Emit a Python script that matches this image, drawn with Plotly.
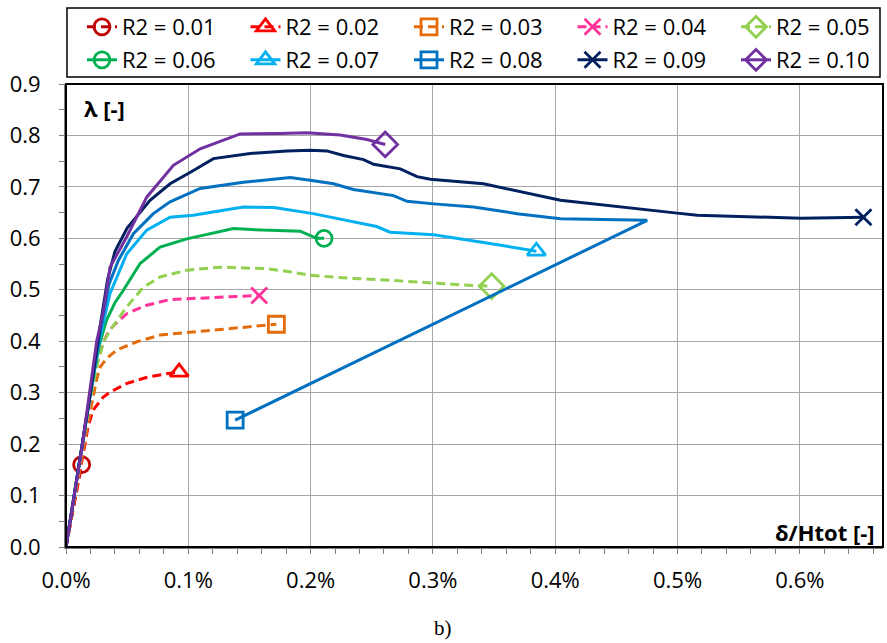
import plotly.graph_objects as go

# Series labels, colours and end-point symbols
labels = ["R2 = 0.01", "R2 = 0.02", "R2 = 0.03", "R2 = 0.04", "R2 = 0.05",
          "R2 = 0.06", "R2 = 0.07", "R2 = 0.08", "R2 = 0.09", "R2 = 0.10"]
colors = ["#C00000", "#FF0000", "#E46C0A", "#FF3399", "#92D050",
          "#00B050", "#00B0F0", "#0070C0", "#002060", "#7030A0"]
symbols = ["circle-open", "triangle-up-open", "square-open", "x-thin-open", "diamond-open",
           "circle-open", "triangle-up-open", "square-open", "x-thin-open", "diamond-open"]
dashed = [True, True, True, True, True, False, False, False, False, False]

# Drift delta/Htot (in %) and load factor lambda for each series
drift_01 = [0, 0.0128]
lam_01 = [0, 0.16]

drift_02 = [0, 0.0128, 0.0155, 0.018, 0.0221, 0.0303, 0.036, 0.0499, 0.0663, 0.0851, 0.0925]
lam_02 = [0, 0.16, 0.20, 0.233, 0.266, 0.291, 0.301, 0.318, 0.330, 0.338, 0.340]

drift_03 = [0, 0.012, 0.018, 0.022, 0.0255, 0.028, 0.033, 0.0415, 0.058, 0.077, 0.104, 0.137, 0.172]
lam_03 = [0, 0.165, 0.24, 0.29, 0.33, 0.35, 0.366, 0.383, 0.399, 0.412, 0.418, 0.425, 0.433]

drift_04 = [0, 0.012, 0.018, 0.023, 0.027, 0.030, 0.035, 0.040, 0.050, 0.066, 0.085, 0.110, 0.137, 0.151, 0.158]
lam_04 = [0, 0.17, 0.26, 0.33, 0.37, 0.395, 0.42, 0.433, 0.454, 0.470, 0.481, 0.484, 0.487, 0.488, 0.489]

drift_05 = [0, 0.012, 0.020, 0.026, 0.031, 0.036, 0.0497, 0.0633, 0.077, 0.0988, 0.126, 0.164,
            0.183, 0.200, 0.235, 0.268, 0.300, 0.328, 0.348]
lam_05 = [0, 0.175, 0.29, 0.36, 0.40, 0.421, 0.467, 0.505, 0.525, 0.538, 0.544, 0.541,
          0.535, 0.528, 0.522, 0.518, 0.513, 0.509, 0.507]

drift_06 = [0, 0.012, 0.020, 0.027, 0.033, 0.040, 0.0469, 0.0606, 0.0769, 0.0988, 0.137, 0.161,
            0.1915, 0.205, 0.211]
lam_06 = [0, 0.18, 0.30, 0.39, 0.44, 0.475, 0.499, 0.551, 0.583, 0.599, 0.619, 0.616,
          0.614, 0.600, 0.600]

drift_07 = [0, 0.012, 0.020, 0.028, 0.036, 0.0497, 0.066, 0.0851, 0.104, 0.145, 0.170, 0.202,
            0.2297, 0.254, 0.265, 0.3006, 0.3388, 0.3846]
lam_07 = [0, 0.18, 0.30, 0.41, 0.493, 0.570, 0.616, 0.641, 0.645, 0.661, 0.660, 0.648,
          0.634, 0.623, 0.612, 0.607, 0.593, 0.575]

drift_08 = [0, 0.012, 0.020, 0.028, 0.035, 0.0428, 0.0551, 0.0714, 0.0851, 0.1097, 0.145, 0.1833,
            0.1997, 0.2187, 0.235, 0.2678, 0.2788, 0.3006, 0.3333, 0.3688, 0.4043, 0.4752, 0.1383]
lam_08 = [0, 0.18, 0.30, 0.42, 0.51, 0.557, 0.609, 0.648, 0.671, 0.697, 0.709, 0.718,
          0.713, 0.706, 0.695, 0.683, 0.672, 0.667, 0.661, 0.648, 0.638, 0.635, 0.2466]

drift_09 = [0, 0.012, 0.020, 0.028, 0.034, 0.0401, 0.050, 0.0687, 0.0851, 0.1042, 0.1205, 0.1506,
            0.1806, 0.1997, 0.2133, 0.2269, 0.2433, 0.2515, 0.2733, 0.287, 0.2979, 0.3415,
            0.4043, 0.4997, 0.5161, 0.6007, 0.652]
lam_09 = [0, 0.18, 0.30, 0.43, 0.52, 0.575, 0.62, 0.674, 0.706, 0.732, 0.755, 0.765,
          0.770, 0.771, 0.770, 0.761, 0.753, 0.744, 0.735, 0.720, 0.715, 0.706,
          0.674, 0.649, 0.645, 0.639, 0.641]

drift_10 = [0, 0.0128, 0.0251, 0.0305, 0.036, 0.0497, 0.066, 0.0878, 0.1097, 0.1424, 0.1751,
            0.197, 0.2242, 0.246, 0.261]
lam_10 = [0, 0.19, 0.40, 0.457, 0.544, 0.603, 0.680, 0.742, 0.774, 0.803, 0.804,
          0.805, 0.801, 0.792, 0.7825]

drifts = [drift_01, drift_02, drift_03, drift_04, drift_05,
          drift_06, drift_07, drift_08, drift_09, drift_10]
lams = [lam_01, lam_02, lam_03, lam_04, lam_05,
        lam_06, lam_07, lam_08, lam_09, lam_10]

x_ticks = [0.0, 0.1, 0.2, 0.3, 0.4, 0.5, 0.6]
x_tick_text = ["0.0%", "0.1%", "0.2%", "0.3%", "0.4%", "0.5%", "0.6%"]
y_ticks = [0.0, 0.1, 0.2, 0.3, 0.4, 0.5, 0.6, 0.7, 0.8, 0.9]
y_tick_text = ["0.0", "0.1", "0.2", "0.3", "0.4", "0.5", "0.6", "0.7", "0.8", "0.9"]

FONT = "Open Sans"
FS = 22

W, H = 887, 643
L, R, T, B = 66, 4, 84, 96
pw, ph = W - L - R, H - T - B


def px_x(p):
    return (p - L) / pw


def px_y(p):
    return (H - B - p) / ph


fig = go.Figure()

legend_layouts = {}
for i, (name, col, sym, dsh, xs, ys) in enumerate(zip(labels, colors, symbols, dashed, drifts, lams)):
    dash = "9px,5px" if dsh else "solid"
    size = 19 if sym.startswith("diamond") else 16
    leg_id = "legend" if i == 0 else f"legend{i + 1}"
    # curve
    fig.add_trace(go.Scatter(
        x=xs, y=ys, mode="lines", showlegend=False, hoverinfo="skip",
        line=dict(color=col, width=3, dash=dash),
    ))
    # end-point marker (also carries the legend entry)
    fig.add_trace(go.Scatter(
        x=xs[-1:], y=ys[-1:], mode="lines+markers", name=name, legend=leg_id,
        line=dict(color=col, width=3, dash=dash),
        marker=dict(symbol=sym, size=size, color=col,
                    line=dict(color=col, width=2.8)),
    ))
    # legend entries laid out on a 5 x 2 grid inside the framed box
    colno, rowno = i % 5, i // 5
    text_left = 122 + colno * 163.5
    row_mid = 27 + rowno * 33
    legend_layouts[leg_id] = dict(
        x=px_x(text_left - 40), xanchor="left",
        y=px_y(row_mid), yanchor="middle",
        orientation="h",
        font=dict(family=FONT, size=FS, color="#000000"),
        bgcolor="rgba(0,0,0,0)", borderwidth=0,
        itemclick=False, itemdoubleclick=False,
    )

fig.update_layout(
    width=W, height=H,
    margin=dict(l=L, r=R, t=T, b=B),
    paper_bgcolor="white", plot_bgcolor="white",
    font=dict(family=FONT, size=FS, color="#000000"),
    showlegend=True,
    xaxis=dict(
        range=[0, 0.668], tickvals=x_ticks, ticktext=x_tick_text,
        showgrid=True, gridcolor="#A6A6A6", gridwidth=1,
        zeroline=False, showline=True, linecolor="#7F7F7F", linewidth=2,
        ticks="outside", ticklen=5, tickcolor="#7F7F7F", tickwidth=1,
        minor=dict(dtick=0.02, ticks="outside", ticklen=5, tickcolor="#7F7F7F", showgrid=False),
        ticklabelstandoff=8,
        tickfont=dict(family=FONT, size=FS, color="#000000"),
    ),
    yaxis=dict(
        range=[0, 0.9], tickvals=y_ticks, ticktext=y_tick_text,
        showgrid=True, gridcolor="#A6A6A6", gridwidth=1,
        zeroline=False, showline=True, linecolor="#7F7F7F", linewidth=2,
        ticks="outside", ticklen=5, tickcolor="#7F7F7F", tickwidth=1,
        minor=dict(dtick=0.05, ticks="outside", ticklen=5, tickcolor="#7F7F7F", showgrid=False),
        ticklabelstandoff=14,
        tickfont=dict(family=FONT, size=FS, color="#000000"),
    ),
    shapes=[
        # plot-area frame
        dict(type="rect", xref="paper", yref="paper", x0=0, x1=1, y0=0, y1=1,
             line=dict(color="#000000", width=2), layer="above"),
        # legend frame
        dict(type="rect", xref="paper", yref="paper",
             x0=px_x(67), x1=px_x(880), y0=px_y(77), y1=px_y(8),
             line=dict(color="#000000", width=1.5)),
    ],
    annotations=[
        dict(text="<b>λ [-]</b>", xref="paper", yref="paper",
             x=px_x(82), y=px_y(108), xanchor="left", yanchor="middle",
             showarrow=False, font=dict(family=FONT, size=FS, color="#000000")),
        dict(text="<b>δ/Htot [-]</b>", xref="paper", yref="paper",
             x=px_x(877), y=px_y(532), xanchor="right", yanchor="middle",
             showarrow=False, font=dict(family=FONT, size=FS, color="#000000")),
        dict(text="b)", xref="paper", yref="paper",
             x=px_x(443), y=px_y(628), xanchor="center", yanchor="middle",
             showarrow=False, font=dict(family="Liberation Serif", size=21, color="#000000")),
    ],
    **legend_layouts,
)

fig.write_html("out.html")
